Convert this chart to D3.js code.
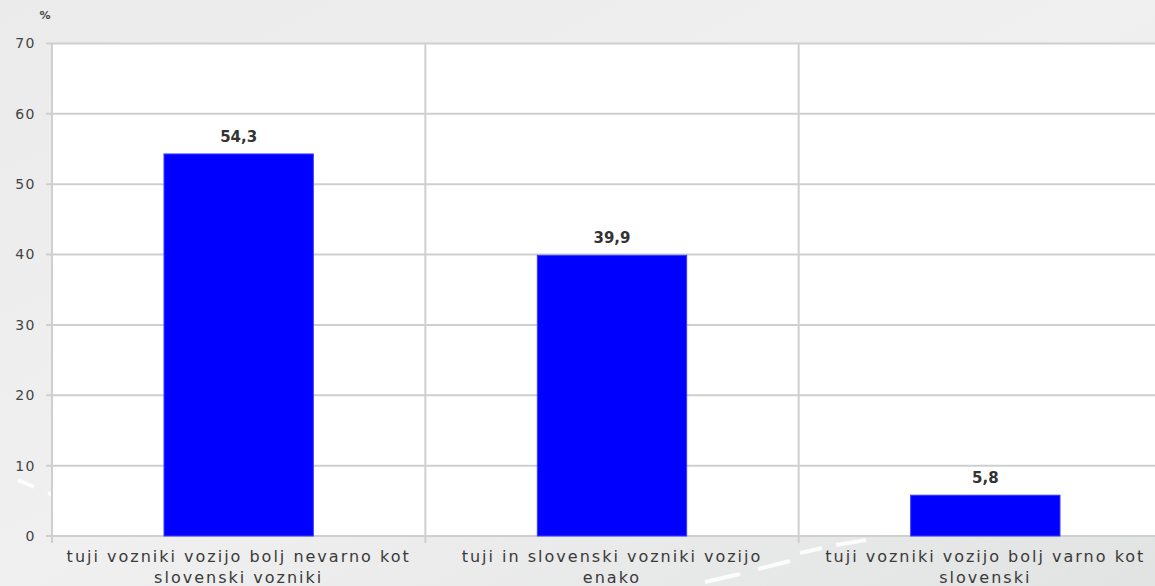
<!DOCTYPE html>
<html><head><meta charset="utf-8">
<script src="https://cdn.jsdelivr.net/npm/d3@7"></script>
<style>html,body{margin:0;padding:0;overflow:hidden;}</style>
</head><body>
<svg id="chart" width="1155" height="586"></svg>
<script>
const categories = [
  ["tuji vozniki vozijo bolj nevarno kot", "slovenski vozniki"],
  ["tuji in slovenski vozniki vozijo", "enako"],
  ["tuji vozniki vozijo bolj varno kot", "slovenski"]
];
const values = [54.3, 39.9, 5.8];
const valueLabels = ["54,3", "39,9", "5,8"];
const yTicks = [0, 10, 20, 30, 40, 50, 60, 70];
const unitLabel = "%";

const svg = d3.select("#chart");
const W = 1155, H = 586;
const m = {left: 52, right: -17, top: 43.5, bottom: 50};

const defs = svg.append("defs");
const g1 = defs.append("linearGradient").attr("id","bg").attr("x1","0").attr("y1","0").attr("x2","1").attr("y2","1");
g1.append("stop").attr("offset","0").attr("stop-color","#ebebeb");
g1.append("stop").attr("offset","0.5").attr("stop-color","#f0f0f0");
g1.append("stop").attr("offset","1").attr("stop-color","#e2e3e3");
svg.append("rect").attr("width",W).attr("height",H).attr("fill","url(#bg)");

// decorative road dashes
const dash = svg.append("g").attr("stroke","#ffffff").attr("stroke-width",4).attr("fill","none").attr("opacity",0.9);
dash.append("path").attr("d","M18,480 L34,487");
dash.append("path").attr("d","M48,493 L62,499");
dash.append("path").attr("d","M705,582 L740,574");
dash.append("path").attr("d","M758,569 L790,561");
dash.append("path").attr("d","M800,553 L822,548");
dash.append("path").attr("d","M836,545 L866,540");

const x = d3.scaleBand().domain(d3.range(categories.length)).range([m.left, W - m.right]).paddingInner(0.6).paddingOuter(0.3);
const y = d3.scaleLinear().domain([0, 70]).range([H - m.bottom, m.top]);

const x0 = m.left, x1 = W - m.right;
svg.append("rect").attr("x",x0).attr("y",y(70)).attr("width",x1-x0).attr("height",y(0)-y(70)).attr("fill","#ffffff");

// horizontal gridlines
svg.append("g").selectAll("line").data(yTicks).join("line")
  .attr("x1", x0 - 6).attr("x2", x1).attr("y1", d=>y(d)).attr("y2", d=>y(d))
  .attr("stroke","#cfcfcf").attr("stroke-width",2);

// vertical separators
const step = x.step();
const bounds = d3.range(categories.length + 1).map(i => x0 + i*step);
svg.append("g").selectAll("line").data(bounds).join("line")
  .attr("x1", d=>d).attr("x2", d=>d).attr("y1", y(70)).attr("y2", y(0)+7)
  .attr("stroke","#cfcfcf").attr("stroke-width",2);

// y tick labels
svg.append("g").selectAll("text").data(yTicks).join("text")
  .attr("x", 36).attr("y", d=>y(d)).attr("dy","0.35em").attr("text-anchor","end")
  .attr("font-family","DejaVu Sans, Verdana, sans-serif").attr("font-size",14).attr("fill","#444")
  .attr("letter-spacing", 1.5)
  .text(d=>d);

svg.append("text").attr("x",45).attr("y",19).attr("text-anchor","middle")
  .attr("font-family","DejaVu Sans, sans-serif").attr("font-size",11).attr("font-weight","bold").attr("fill","#444")
  .text(unitLabel);

// bars
svg.append("g").selectAll("rect").data(values).join("rect")
  .attr("x",(d,i)=>x(i)).attr("width",x.bandwidth())
  .attr("y",d=>y(d)).attr("height",d=>y(0)-y(d))
  .attr("fill","#0000ff").attr("stroke","#3a3aff").attr("stroke-width",1);

// value labels
svg.append("g").selectAll("text").data(values).join("text")
  .attr("x",(d,i)=>x(i)+x.bandwidth()/2).attr("y",d=>y(d)-12)
  .attr("text-anchor","middle")
  .attr("font-family","DejaVu Sans, Verdana, sans-serif").attr("font-size",15).attr("font-weight","bold").attr("fill","#333")
  .text((d,i)=>valueLabels[i]);

// category labels
const cl = svg.append("g").selectAll("text").data(categories).join("text")
  .attr("x",(d,i)=>x(i)+x.bandwidth()/2).attr("y", y(0)+26)
  .attr("text-anchor","middle")
  .attr("font-family","DejaVu Sans, Verdana, sans-serif").attr("font-size",16).attr("fill","#3a3a3a")
  .attr("letter-spacing", 2);
cl.selectAll("tspan").data(d=>d).join("tspan")
  .attr("x", function(){ return d3.select(this.parentNode).attr("x"); })
  .attr("dy",(d,i)=> i===0 ? 0 : 21)
  .text(d=>d);
</script>
</body></html>
